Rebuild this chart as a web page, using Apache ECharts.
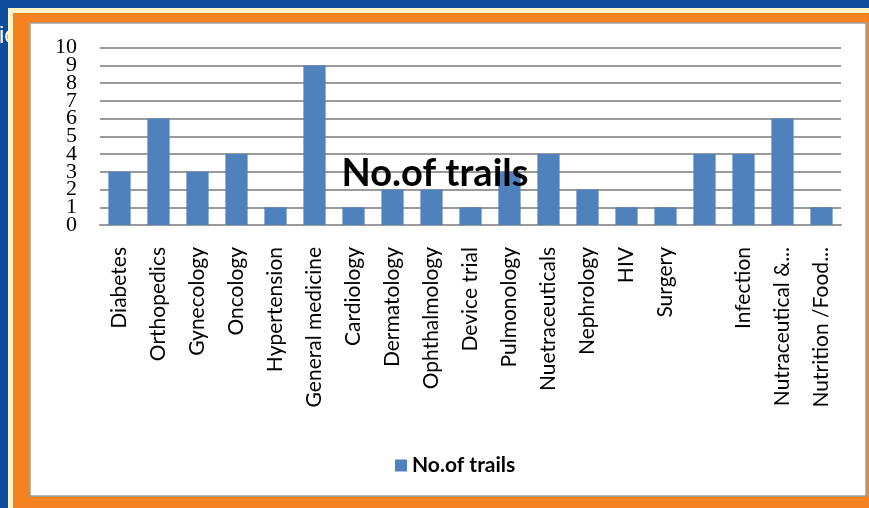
<!DOCTYPE html>
<html><head><meta charset="utf-8">
<script src="https://cdn.jsdelivr.net/npm/echarts@6/dist/echarts.min.js"></script>
<style>html,body{margin:0;padding:0;background:#0d4b9c;}#c{width:869px;height:508px;}</style>
</head><body><div id="c"></div>
<script>
const categories = ['Diabetes','Orthopedics','Gynecology','Oncology','Hypertension','General medicine','Cardiology','Dermatology','Ophthalmology','Device trial','Pulmonology','Nuetraceuticals','Nephrology','HIV','Surgery','','Infection','Nutraceutical &...','Nutrition /Food...'];
const trials = [3,6,3,4,1,9,1,2,2,1,3,4,2,1,1,4,4,6,1];
const yTicks = [0,1,2,3,4,5,6,7,8,9,10];
const seriesName = 'No.of trails';

const yLabelBase = {margin: 23, fontFamily: 'Liberation Serif', fontSize: 22, color: '#000',
  interval: 0, hideOverlap: false, showMinLabel: true, showMaxLabel: true};

const chart = echarts.init(document.getElementById('c'));
chart.setOption({
  backgroundColor: '#0d4b9c',
  animation: false,
  title: {
    text: seriesName, left: 430, top: 150, textAlign: 'center',
    textStyle: {fontFamily: 'Lato', fontWeight: 'bold', fontSize: 38, color: '#000'}
  },
  legend: {
    data: [seriesName], left: 390, top: 450, itemWidth: 12, itemHeight: 12, itemGap: 6,
    icon: 'rect',
    textStyle: {fontFamily: 'Lato', fontWeight: 'bold', fontSize: 21, color: '#000'}
  },
  graphic: [
    {type: 'text', z: -10, style: {text: 'ic the study objective', x: -1, y: 24, textVerticalAlign: 'alphabetic', fill: '#fff', font: '24px "Liberation Sans"'}},
    {type: 'rect', z: -9, shape: {x: 8, y: 8, width: 861, height: 500}, style: {fill: '#fff4c4'}},
    {type: 'rect', z: -8, shape: {x: 13, y: 13, width: 856, height: 495}, style: {fill: '#f58220'}},
    {type: 'rect', z: -7, shape: {x: 30, y: 23, width: 836, height: 473}, style: {fill: '#fff', stroke: '#a0a0a0', lineWidth: 1.5}}
  ],
  grid: {left: 100, right: 28, top: 47.7, bottom: 283, containLabel: false},
  xAxis: {
    type: 'category', data: categories,
    axisLine: {show: true, lineStyle: {color: '#9a9a9a', width: 2}},
    axisTick: {show: false},
    axisLabel: {rotate: 90, interval: 0, margin: 22, fontFamily: 'Lato', fontSize: 21, color: '#000', hideOverlap: false}
  },
  yAxis: [{
    type: 'value', min: 0, max: 10, interval: 1, position: 'left',
    axisLine: {show: false}, axisTick: {show: false},
    axisLabel: Object.assign({}, yLabelBase, {formatter: v => (yTicks.includes(v) && v % 2 === 0) ? String(v) : ''}),
    splitLine: {lineStyle: {color: '#9a9a9a', width: 2}}
  }, {
    type: 'value', min: 0, max: 10, interval: 1, position: 'left', offset: 0,
    axisLine: {show: false}, axisTick: {show: false},
    axisLabel: Object.assign({}, yLabelBase, {formatter: v => (yTicks.includes(v) && v % 2 === 1) ? String(v) : ''}),
    splitLine: {show: false}
  }],
  series: [{
    name: seriesName, type: 'bar', data: trials, barCategoryGap: '43%', z: 1,
    itemStyle: {color: '#4f81bd'}
  }]
});
</script></body></html>
